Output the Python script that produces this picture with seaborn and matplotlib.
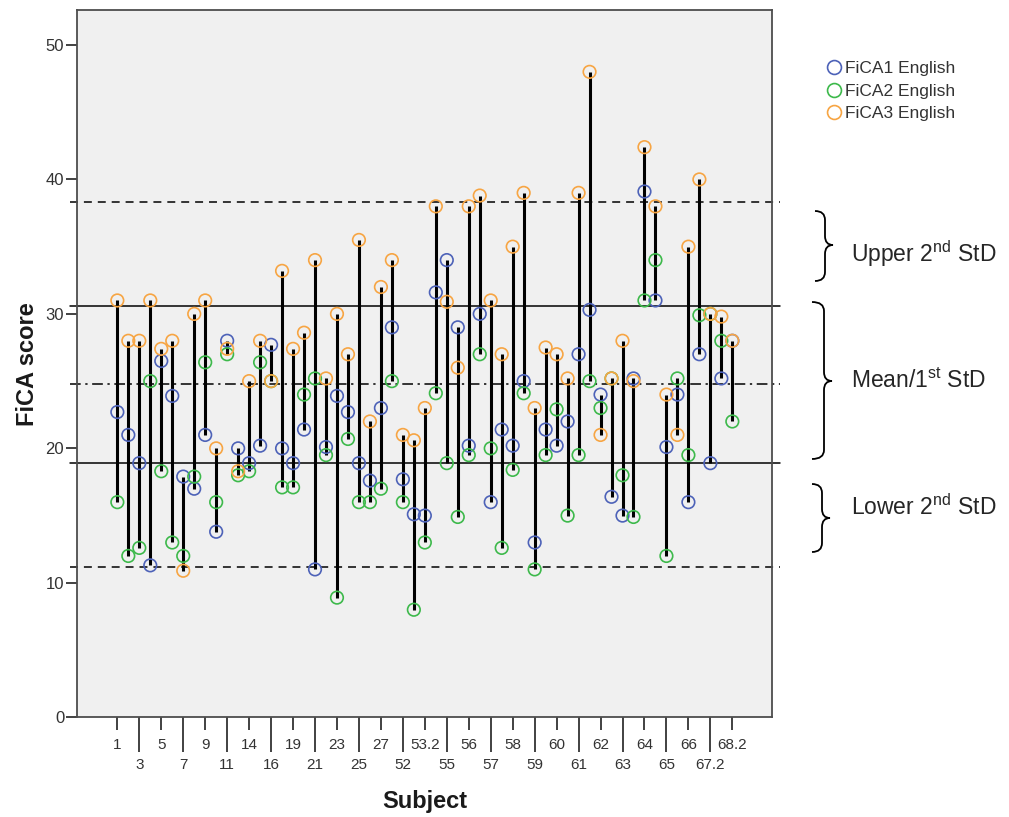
import numpy as np
import pandas as pd
import matplotlib
matplotlib.use("Agg")
import matplotlib.pyplot as plt
import seaborn as sns
from matplotlib.lines import Line2D
from matplotlib.path import Path
from matplotlib.patches import PathPatch

# subjects in plotted order (only every other one is labelled on the axis)
subjects = ["1", "2", "3", "4", "5", "6", "7", "8", "9", "10",
            "11", "12", "14", "15", "16", "17", "19", "20", "21", "22",
            "23", "24", "25", "26", "27", "51", "52", "53", "53.2", "54",
            "55", "55.2", "56", "56.2", "57", "57.2", "58", "58.2", "59", "59.2",
            "60", "60.2", "61", "61.2", "62", "62.2", "63", "63.2", "64", "64.2",
            "65", "65.2", "66", "67", "67.2", "68", "68.2"]

fica1 = [22.7, 21.0, 18.9, 11.3, 26.5, 23.9, 17.9, 17.0, 21.0, 13.8,
         28.0, 20.0, 18.9, 20.2, 27.7, 20.0, 18.9, 21.4, 11.0, 20.1,
         23.9, 22.7, 18.9, 17.6, 23.0, 29.0, 17.7, 15.1, 15.0, 31.6,
         34.0, 29.0, 20.2, 30.0, 16.0, 21.4, 20.2, 25.0, 13.0, 21.4,
         20.2, 22.0, 27.0, 30.3, 24.0, 16.4, 15.0, 25.2, 39.1, 31.0,
         20.1, 24.0, 16.0, 27.0, 18.9, 25.2, 28.0]
fica2 = [16.0, 12.0, 12.6, 25.0, 18.3, 13.0, 12.0, 17.9, 26.4, 16.0,
         27.0, 18.0, 18.3, 26.4, 25.0, 17.1, 17.1, 24.0, 25.2, 19.5,
         8.9, 20.7, 16.0, 16.0, 17.0, 25.0, 16.0, 8.0, 13.0, 24.1,
         18.9, 14.9, 19.5, 27.0, 20.0, 12.6, 18.4, 24.1, 11.0, 19.5,
         22.9, 15.0, 19.5, 25.0, 23.0, 25.2, 18.0, 14.9, 31.0, 34.0,
         12.0, 25.2, 19.5, 29.9, 30.0, 28.0, 22.0]
fica3 = [31.0, 28.0, 28.0, 31.0, 27.4, 28.0, 10.9, 30.0, 31.0, 20.0,
         27.4, 18.3, 25.0, 28.0, 25.0, 33.2, 27.4, 28.6, 34.0, 25.2,
         30.0, 27.0, 35.5, 22.0, 32.0, 34.0, 21.0, 20.6, 23.0, 38.0,
         30.9, 26.0, 38.0, 38.8, 31.0, 27.0, 35.0, 39.0, 23.0, 27.5,
         27.0, 25.2, 39.0, 48.0, 21.0, 25.2, 28.0, 25.0, 42.4, 38.0,
         24.0, 21.0, 35.0, 40.0, 30.0, 29.8, 28.0]

series_names = ["FiCA1 English", "FiCA2 English", "FiCA3 English"]
series_colors = ["#4d62b8", "#3db94b", "#f7a543"]

# mean, 1st and 2nd standard deviation reference lines
ref_values = [38.3, 30.6, 24.8, 18.9, 11.2]
ref_styles = [(0, (5.2, 3.9)), "solid", (0, (7, 3, 1.5, 3)), "solid", (0, (5.2, 3.9))]

sns.set_style("white")
plt.rcParams["font.family"] = ["Liberation Sans", "DejaVu Sans"]
plt.rcParams["mathtext.fontset"] = "custom"
plt.rcParams["mathtext.rm"] = "Liberation Sans"

df = pd.DataFrame({"Subject": subjects, series_names[0]: fica1,
                   series_names[1]: fica2, series_names[2]: fica3})
df["pos"] = np.arange(len(df))
long_df = df.melt(id_vars=["Subject", "pos"], value_vars=series_names,
                  var_name="series", value_name="score")

W, H = 1009, 817
fig = plt.figure(figsize=(W / 100, H / 100), dpi=100)
ax = fig.add_axes([76.7 / W, 1 - 717.3 / H, 695.6 / W, 707.3 / H])
ax.set_facecolor("#f0f0f0")

# high-low lines
lo = df[series_names].min(axis=1)
hi = df[series_names].max(axis=1)
ax.vlines(df["pos"], lo, hi, color="black", lw=2.2, zorder=2)

sns.scatterplot(data=long_df, x="pos", y="score", hue="series",
                palette=series_colors, s=82, linewidth=1.2,
                legend=False, ax=ax, zorder=3)
pts = ax.collections[-1]
pts.set_edgecolors(pts.get_facecolors())
pts.set_facecolors("none")

for val, st in zip(ref_values, ref_styles):
    ax.plot([-0.009, 1.011], [val, val], transform=ax.get_yaxis_transform(),
            color="black", lw=1.1, ls=st, clip_on=False, zorder=1)

ax.set_xlim(-3.7, 59.64)
ax.set_ylim(0, 52.6)
ax.set_yticks([0, 10, 20, 30, 40, 50])

top_idx = list(range(0, len(subjects), 4))
bot_idx = list(range(2, len(subjects), 4))
ax.set_xticks(top_idx)
ax.set_xticklabels([subjects[i] for i in top_idx])
ax.set_xticks(bot_idx, minor=True)
ax.set_xticklabels([subjects[i] for i in bot_idx], minor=True)

ax.tick_params(axis="x", which="major", direction="out", length=9, width=1.3,
               pad=6, labelsize=11, colors="#333333", bottom=True)
ax.tick_params(axis="x", which="minor", direction="out", length=25, width=1.3,
               pad=4, labelsize=11, colors="#333333", bottom=True)
ax.tick_params(axis="y", direction="out", length=8, width=1.3, pad=1,
               labelsize=12, colors="#333333", left=True)

for sp in ax.spines.values():
    sp.set_color("#4d4d4d")
    sp.set_linewidth(1.3)

ax.set_xlabel("Subject", fontsize=17, fontweight="bold", color="#1a1a1a")
ax.set_ylabel("FiCA score", fontsize=17, fontweight="bold", color="#1a1a1a")
ax.xaxis.set_label_coords(0.5, -(790 - 717.3) / 707.3)
ax.yaxis.set_label_coords(-(76.7 - 38.5) / 695.6, 0.5)

handles = [Line2D([], [], ls="none", marker="o", ms=10, mfc="none",
                  mec=c, mew=1.2) for c in series_colors]
fig.legend(handles, series_names, loc="upper left",
           bbox_to_anchor=(827 / W, 1 - 61 / H), frameon=False,
           handlelength=0.8, handletextpad=0.25, labelspacing=0.42,
           borderpad=0, borderaxespad=0, fontsize=12.5, labelcolor="#333333")


def brace(x_end, x_stem, x_tip, y_top, y_mid, y_bot, r=9):
    pts_px = [(x_end, y_top), (x_stem, y_top), (x_stem, y_top + r),
              (x_stem, y_mid - r), (x_stem, y_mid), (x_tip, y_mid),
              (x_stem, y_mid), (x_stem, y_mid + r),
              (x_stem, y_bot - r), (x_stem, y_bot), (x_end, y_bot)]
    codes = [Path.MOVETO, Path.CURVE3, Path.CURVE3, Path.LINETO,
             Path.CURVE3, Path.CURVE3, Path.CURVE3, Path.CURVE3,
             Path.LINETO, Path.CURVE3, Path.CURVE3]
    verts = [(x / W, 1 - y / H) for x, y in pts_px]
    fig.add_artist(PathPatch(Path(verts, codes), transform=fig.transFigure,
                             fill=False, edgecolor="black", lw=1.3))


brace(815, 825, 833, 211, 245, 281)
brace(812, 824, 832, 302, 381, 459)
brace(812, 822, 830, 484, 518, 552)

fig.text(851 / W, 1 - 262 / H, r"Upper 2$^{\rm nd}$ StD", fontsize=16.5,
         va="baseline", ha="left")
fig.text(851 / W, 1 - 388 / H, r"Mean/1$^{\rm st}$ StD", fontsize=16.5,
         va="baseline", ha="left")
fig.text(851 / W, 1 - 515 / H, r"Lower 2$^{\rm nd}$ StD", fontsize=16.5,
         va="baseline", ha="left")

fig.savefig("out.png", dpi=100, facecolor="white")
